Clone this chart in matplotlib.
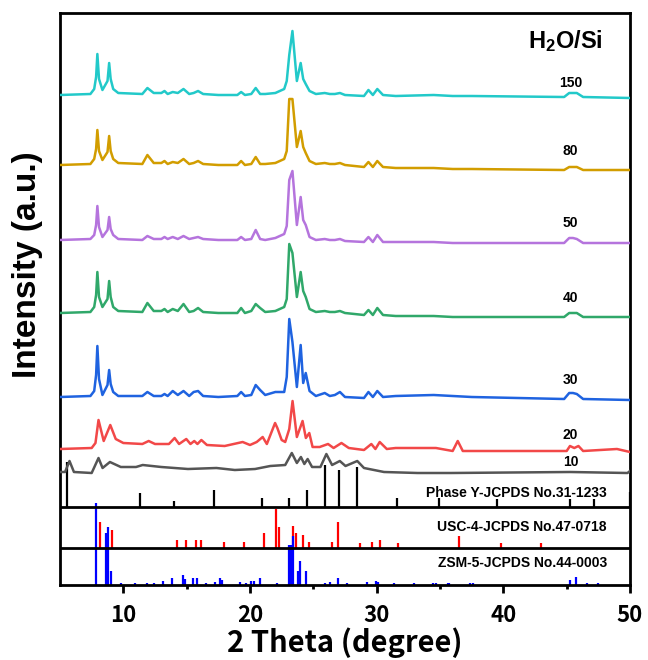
import matplotlib
matplotlib.use("Agg")
import matplotlib.pyplot as plt

# shared 2-theta vertices for the ZSM-5 type patterns (H2O/Si = 30..150)
two_theta = [5.0, 7.4, 7.7, 7.85, 7.95, 8.08, 8.35, 8.75, 8.88, 9.0, 9.2, 9.6, 11.5, 11.9,
             12.4, 13.0, 13.25, 13.5, 13.9, 14.3, 14.75, 15.2, 15.55, 15.9,
             16.3, 17.5, 19.0, 19.3, 19.6, 20.1, 20.45, 20.8, 21.2, 22.0,
             22.7, 22.9, 23.1, 23.35, 23.7, 24.0, 24.2, 24.4, 24.7, 25.2,
             25.9, 26.3, 26.7, 27.1, 27.5, 29.0, 29.35, 29.7, 30.05, 30.5,
             31.5, 34.5, 36.0, 37.5, 44.8, 45.2, 45.5, 45.8, 46.3, 50.0]

int_150 = [0, 1, 6, 18, 41, 16, 5, 14, 32, 16, 6, 2, 1, 7,
           2, 2, 4, 1, 3, 2, 6, 1, 2, 4,
           1, 0, 0, 3, 0, 1, 7, 1, 1, 2,
           6, 14, 40, 64, 14, 32, 16, 11, 4, 1,
           2, 1, 1, 2, 0, -1, 5, 0, 6, 0,
           -1, 0, -1, -1, -2, 2, 2, 2, -2, -3]
int_80 = [0, 1, 6, 16, 35, 14, 5, 13, 29, 14, 6, 2, 1, 10,
          2, 2, 4, 1, 3, 2, 6, 1, 2, 4,
          1, 0, 0, 4, 0, 1, 8, 1, 1, 2,
          6, 14, 66, 66, 18, 34, 18, 12, 4, 1,
          2, 1, 1, 2, 0, -2, 3, -2, 4, -2,
          -3, -3, -4, -4, -5, -2, -2, -2, -5, -5]
int_50 = [0, 1, 5, 15, 34, 13, 3, 10, 23, 11, 5, 1, 0, 4,
          1, 1, 3, 1, 3, 1, 4, 1, 2, 3,
          1, 0, 0, 3, 0, 1, 10, 1, 0, 2,
          6, 14, 60, 69, 15, 43, 20, 15, 3, 0,
          1, 0, 0, 1, -1, -2, 3, -2, 5, -2,
          -2, -2, -3, -3, -3, 2, 2, 1, -3, -3]
int_40 = [0, 1, 6, 18, 41, 16, 6, 14, 32, 16, 6, 2, 1, 10,
          2, 2, 4, 1, 4, 2, 9, 1, 2, 5,
          1, 0, 0, 5, 0, 2, 9, 5, 1, 2,
          6, 14, 69, 60, 16, 41, 22, 16, 4, 1,
          2, 1, 1, 2, 0, -2, 3, -2, 5, -2,
          -3, -3, -4, -4, -4, 0, 0, 0, -4, -4]
int_30 = [0, 1, 6, 22, 51, 18, 2, 12, 27, 13, 5, 1, 1, 5,
          1, 1, 3, 1, 6, 2, 6, 1, 5, 6,
          1, 0, 1, 5, 1, 2, 12, 7, 2, 5,
          5, 20, 78, 55, 10, 52, 14, 24, 6, 1,
          4, 1, 2, 5, 0, -1, 5, 0, 6, 0,
          1, 2, 1, 0, -2, 4, 4, 3, -2, -3]

# H2O/Si = 20
theta_20 = [5.0, 7.5, 7.8, 8.04, 8.45, 8.97, 9.4, 10.0, 11.5, 12.0,
            12.5, 13.2, 13.6, 14.05, 14.4, 14.97, 15.3, 15.6, 15.85, 16.16,
            16.6, 18.0, 19.42, 20.0, 20.53, 21.0, 21.33, 21.98, 22.16, 22.5,
            22.78, 23.1, 23.36, 23.7, 24.15, 24.41, 24.68, 24.94, 25.5, 26.16,
            26.6, 27.22, 27.8, 29.0, 29.58, 29.9, 30.24, 30.8, 31.5, 34.68,
            36.0, 36.4, 36.8, 45.0, 45.26, 45.6, 45.93, 46.3, 48.97, 50.0]
int_20 = [0, 1, 6, 29, 8, 24, 10, 6, 5, 8,
          5, 5, 5, 11, 5, 10, 5, 8, 5, 9,
          4, 3, 7, 4, 7, 12, 5, 26, 21, 9,
          7, 20, 48, 12, 28, 11, 16, 2, 2, 5,
          1, 6, 1, -1, 5, 0, 7, 0, 1, 1,
          -2, 8, -2, -2, 3, 1, 3, -2, 0, -3]

# H2O/Si = 10
theta_10 = [5.0, 5.4, 5.75, 6.1, 7.5, 8.04, 8.36, 8.94, 9.8, 11.0,
            11.53, 13.0, 15.1, 17.35, 18.8, 20.4, 21.6, 22.78, 23.3, 23.7,
            24.02, 24.29, 24.55, 24.9, 25.56, 26.03, 26.48, 27.09, 27.54, 28.47,
            29.0, 30.58, 33.23, 35.87, 45.3, 49.8, 50.0]
int_10 = [0, 0, 11, 0, -1, 14, 4, 10, 5, 5,
          7, 5, 3, 4, 2, 3, 6, 7, 19, 9,
          15, 8, 13, 5, 5, 18, 7, 11, 6, 11,
          4, 0, -1, -1, 0, -1, 1]

# reference cards
phase_y_pos = [5.58, 11.35, 13.99, 17.14, 20.98, 23.04, 24.5, 25.95, 27.06, 28.41,
               31.64, 34.94, 39.52, 45.26, 47.12, 50.0]
phase_y_int = [45, 14, 6, 17, 9, 9, 17, 42, 37, 40, 9, 9, 8, 8, 8, 15]

usc4_pos = [8.15, 9.07, 14.2, 14.97, 15.74, 16.16, 17.98, 19.52, 21.14, 22.04,
            22.3, 23.36, 23.63, 24.18, 24.68, 26.5, 26.96, 28.68, 29.63, 30.26,
            31.72, 36.48, 39.79, 42.94]
usc4_int = [26, 18, 8, 8, 8, 8, 6, 6, 15, 39, 21, 22, 15, 13, 6, 6, 26, 5, 6, 8, 5, 12, 5, 5]

zsm5_pos = [7.83, 8.67, 8.81, 9.02, 9.8, 10.95, 11.88, 12.4, 13.17, 13.83,
            14.71, 14.84, 15.5, 15.85, 16.56, 17.22, 17.67, 17.8, 19.18, 19.71,
            20.08, 20.32, 20.8, 22.12, 23.04, 23.23, 23.36, 23.75, 23.97, 24.42,
            25.95, 26.35, 26.93, 27.67, 29.26, 29.92, 30.1, 31.37, 32.96, 34.42,
            34.68, 35.6, 35.74, 37.33, 37.6, 45.26, 45.71, 46.59, 47.46]
zsm5_int = [82, 52, 58, 14, 2, 2, 2, 2, 4, 7,
            10, 6, 7, 7, 2, 3, 7, 5, 3, 2,
            4, 4, 7, 2, 40, 40, 49, 14, 24, 14,
            2, 3, 7, 2, 3, 4, 3, 2, 2, 2,
            2, 2, 2, 2, 2, 5, 8, 2, 2]

ratio_labels = ["150", "80", "50", "40", "30", "20", "10"]

plt.rcParams['mathtext.fontset'] = 'custom'
plt.rcParams['mathtext.rm'] = 'Liberation Sans'
plt.rcParams['mathtext.bf'] = 'Liberation Sans:bold'

fig = plt.figure(figsize=(6.48, 6.60), dpi=100)
ax = fig.add_axes([60 / 648, 75 / 660, 570 / 648, 572 / 660])

curves = [
    (two_theta, int_150, 490, "#22C9C9"),
    (two_theta, int_80, 420, "#D29D00"),
    (two_theta, int_50, 345, "#B574DD"),
    (two_theta, int_40, 272, "#30A86A"),
    (two_theta, int_30, 188, "#1F63E0"),
    (theta_20, int_20, 136, "#F24848"),
    (theta_10, int_10, 113, "#555555"),
]
label_y = [502, 434, 362, 287, 205, 150, 123]

for (xs, ys, off, col), lab, ly in zip(curves, ratio_labels, label_y):
    ax.plot(xs, [v + off for v in ys], color=col, lw=1.8, zorder=3)
    ax.text(45.3, ly, lab, ha="center", va="center", fontsize=10,
            fontweight="bold", family="Liberation Sans")

ax.text(44.9, 537, r"$\mathbf{H_2O/Si}$", ha="center", va="baseline", fontsize=17)

# stick patterns
ax.vlines(phase_y_pos, 78, [78 + v for v in phase_y_int], color="black", lw=1.6)
ax.vlines(usc4_pos, 37, [37 + v for v in usc4_int], color="#FF0000", lw=1.6)
ax.vlines(zsm5_pos, 0, zsm5_int, color="#0000FF", lw=1.6)
ax.axhline(78, color="black", lw=2)
ax.axhline(37, color="black", lw=2)

card_kw = dict(ha="right", va="center", fontsize=10, fontweight="bold", family="Liberation Sans")
ax.text(48.17, 92, "Phase Y-JCPDS No.31-1233", **card_kw)
ax.text(48.17, 58, "USC-4-JCPDS No.47-0718", **card_kw)
ax.text(48.17, 22, "ZSM-5-JCPDS No.44-0003", **card_kw)

ax.set_xlim(5, 50)
ax.set_ylim(0, 572)
ax.set_yticks([])
ax.set_xticks([10, 20, 30, 40, 50])
ax.set_xticks([15, 25, 35, 45], minor=True)
ax.tick_params(axis="x", which="major", direction="out", length=6, width=2, pad=8, labelsize=16)
ax.tick_params(axis="x", which="minor", direction="out", length=3, width=2)
for lbl in ax.get_xticklabels():
    lbl.set_fontweight("bold")
    lbl.set_family("Noto Sans CJK SC")
for sp in ax.spines.values():
    sp.set_linewidth(2)

ax.set_xlabel("2 Theta (degree)", fontsize=21, fontweight="bold", family="Noto Sans CJK SC", labelpad=0)
fig.text(28 / 648, 1 - 265 / 660, "Intensity (a.u.)", rotation=90, ha="center", va="center",
         fontsize=24, fontweight="bold", family="Liberation Sans")

fig.savefig("out.png", dpi=100)
